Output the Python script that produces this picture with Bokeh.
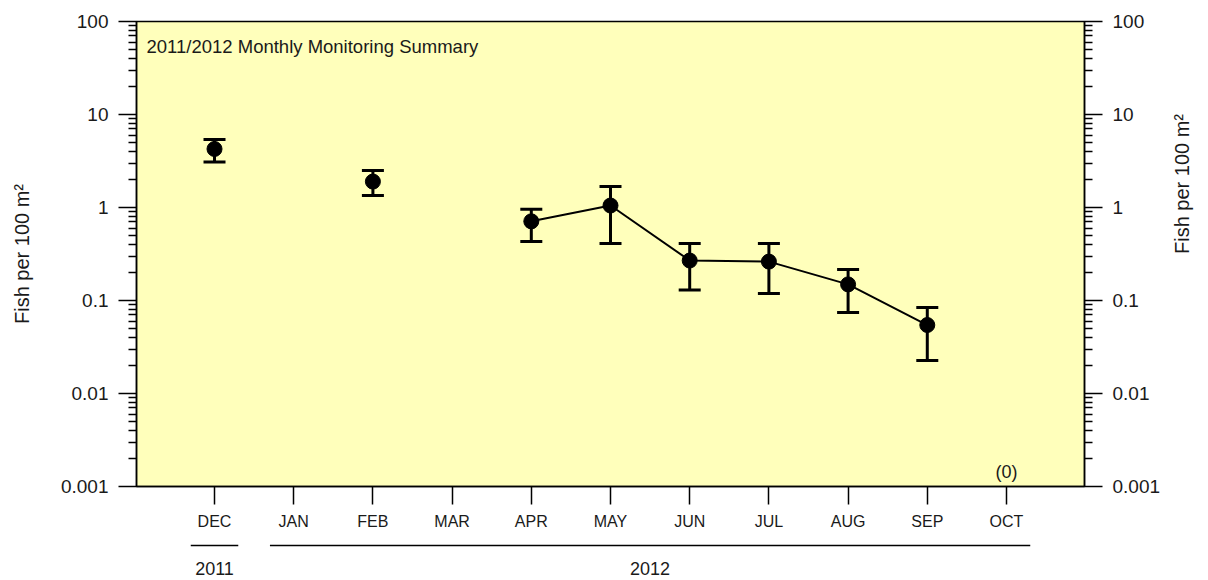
import math
import numpy as np
from bokeh.plotting import figure
from bokeh.layouts import column
from bokeh.models import ColumnDataSource, FixedTicker, LogAxis, Whisker, TeeHead, Range1d, Label
from bokeh.embed import file_html
from bokeh.resources import INLINE
from bokeh.core.properties import value

nan = float("nan")

# ---- data ----
months = ["DEC", "JAN", "FEB", "MAR", "APR", "MAY", "JUN", "JUL", "AUG", "SEP", "OCT"]
mean_catch = [4.26, nan, 1.90, nan, 0.71, 1.05, 0.269, 0.262, 0.149, 0.0545, nan]
upper_ci = [5.38, nan, 2.50, nan, 0.96, 1.68, 0.41, 0.41, 0.215, 0.084, nan]
lower_ci = [3.08, nan, 1.35, nan, 0.43, 0.41, 0.130, 0.119, 0.0743, 0.0226, nan]
zero_months = ["OCT"]
zero_texts = ["(0)"]
years = ["2011", "2012"]
year_first_month = ["DEC", "JAN"]
year_last_month = ["DEC", "OCT"]
y_ticks = [0.001, 0.01, 0.1, 1, 10, 100]
y_tick_labels = ["0.001", "0.01", "0.1", "1", "10", "100"]
title_text = "2011/2012 Monthly Monitoring Summary"
y_label = "Fish per 100 m²"

FONT = "Liberation Sans"
TXT = "#1a1a1a"
W = 1208

xi = list(range(len(months)))
valid = [i for i in xi if not math.isnan(mean_catch[i])]
src = ColumnDataSource(dict(
    x=[xi[i] for i in valid],
    mean=[mean_catch[i] for i in valid],
    upper=[upper_ci[i] for i in valid],
    lower=[lower_ci[i] for i in valid],
))

p = figure(width=W, height=532, x_range=Range1d(-0.985, 10.985),
           y_range=Range1d(min(y_ticks), max(y_ticks)), y_axis_type="log",
           output_backend="svg", toolbar_location=None,
           min_border_left=136, min_border_right=124, min_border_top=21, min_border_bottom=46)
p.background_fill_color = "#FFFFBB"
p.border_fill_color = "white"
p.grid.visible = False
p.outline_line_color = "black"
p.outline_line_width = 1.5

# x axis
xa = p.xaxis[0]
xa.ticker = FixedTicker(ticks=xi, minor_ticks=[])
xa.major_label_overrides = {i: m for i, m in zip(xi, months)}
xa.major_tick_out = 18
xa.major_tick_in = 0
xa.minor_tick_out = 0
xa.major_tick_line_width = 1.5
xa.axis_line_width = 1.5
xa.major_label_standoff = 8
xa.major_label_text_font = FONT
xa.major_label_text_font_size = "16px"
xa.major_label_text_color = TXT

minor = [k * 10.0 ** e for e in range(-3, 2) for k in range(2, 10)]
ylabels = {t: l for t, l in zip(y_ticks, y_tick_labels)}


def style_y(ax, standoff):
    ax.ticker = FixedTicker(ticks=y_ticks, minor_ticks=minor)
    ax.major_label_overrides = ylabels
    ax.major_tick_out = 18
    ax.major_tick_in = 0
    ax.minor_tick_out = 8
    ax.minor_tick_in = 0
    ax.major_tick_line_width = 1.5
    ax.minor_tick_line_width = 1.5
    ax.axis_line_width = 1.5
    ax.major_label_standoff = 10
    ax.major_label_text_font = FONT
    ax.major_label_text_font_size = "19px"
    ax.major_label_text_color = TXT
    ax.axis_label = y_label
    ax.axis_label_text_font = FONT
    ax.axis_label_text_font_size = "20px"
    ax.axis_label_text_font_style = "normal"
    ax.axis_label_text_color = TXT
    ax.axis_label_standoff = standoff


style_y(p.yaxis[0], 25)
ra = LogAxis()
style_y(ra, 19)
ra.axis_label_orientation = math.pi / 2
p.add_layout(ra, "right")

# line through consecutive months
p.line(xi, mean_catch, line_width=2, color="black")
whisk = Whisker(source=src, base="x", upper="upper", lower="lower",
                line_width=3, line_color="black",
                upper_head=TeeHead(size=22, line_width=3, line_color="black"),
                lower_head=TeeHead(size=22, line_width=3, line_color="black"))
p.add_layout(whisk)
p.scatter("x", "mean", source=src, size=15, color="black")

p.add_layout(Label(x=-0.985, y=max(y_ticks), x_offset=10, y_offset=-14, text=title_text,
                   text_baseline="top", text_font=FONT, text_font_size="18.5px", text_color=TXT))

p.text(x=[months.index(m) for m in zero_months], y=[min(y_ticks)] * len(zero_months),
       text=zero_texts, y_offset=-5, text_baseline="bottom", text_align="center",
       text_font=value(FONT), text_font_size="18px", text_color=TXT)

# year row
p2 = figure(width=W, height=48, x_range=p.x_range, y_range=Range1d(0, 1),
            x_axis_type=None, y_axis_type=None, output_backend="svg", toolbar_location=None,
            min_border_left=136, min_border_right=124, min_border_top=0, min_border_bottom=0)
p2.grid.visible = False
p2.outline_line_color = None
p2.background_fill_color = "white"
p2.border_fill_color = "white"
x0 = [months.index(m) - 0.3 for m in year_first_month]
x1 = [months.index(m) + 0.3 for m in year_last_month]
p2.segment(x0=x0, x1=x1, y0=[0.73] * len(years), y1=[0.73] * len(years),
           line_width=1.5, color="black")
p2.text(x=[(a + b) / 2 for a, b in zip(x0, x1)], y=[0.25] * len(years), text=years,
        text_align="center", text_baseline="middle", text_font=value(FONT),
        text_font_size="18px", text_color=TXT)

layout = column(p, p2, spacing=0)
open("out.html", "w").write(file_html(layout, INLINE))
